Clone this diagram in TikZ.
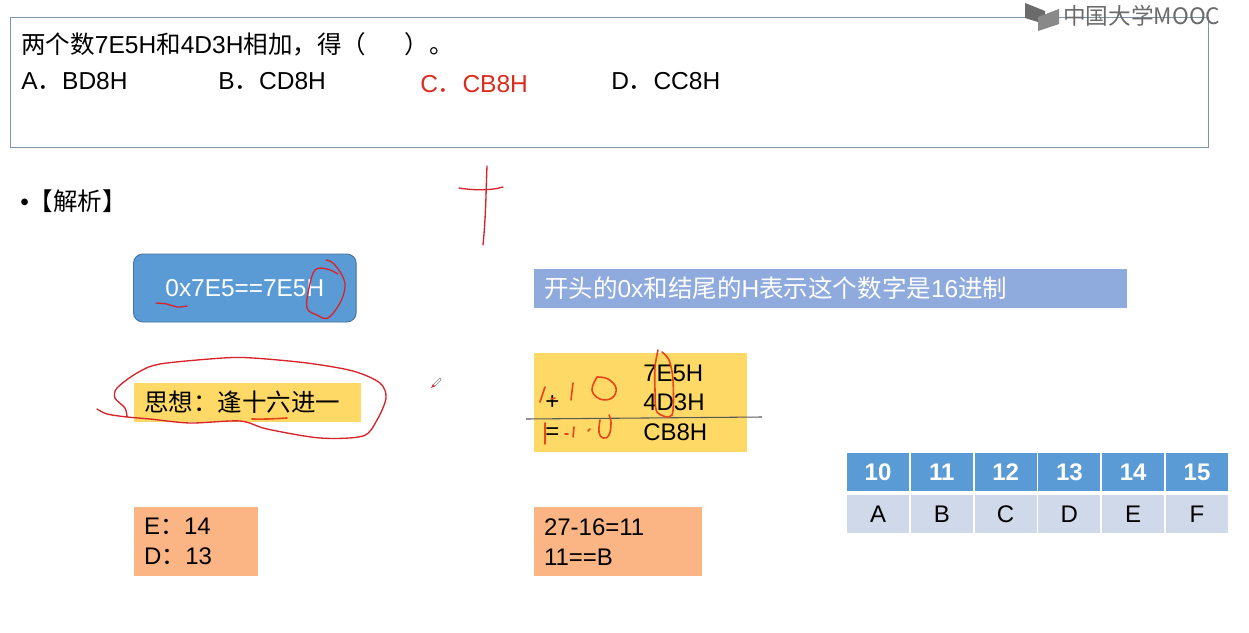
\documentclass[tikz,border=0pt]{standalone}
\usepackage{fontspec}
\usepackage{xcolor}
\setmainfont{Liberation Sans}
\newfontfamily\cjk{Noto Sans CJK SC}
\definecolor{box-line}{HTML}{7C93AA}
\definecolor{ink-red}{HTML}{D8232A}
\definecolor{ink-orange}{HTML}{E8451C}
\definecolor{answer-red}{HTML}{DC2C1E}
\definecolor{sky-blue}{HTML}{5B9BD5}
\definecolor{soft-blue}{HTML}{8FAADC}
\definecolor{pale-blue}{HTML}{CFD9EA}
\definecolor{amber}{HTML}{FFD966}
\definecolor{peach}{HTML}{FBB584}
\definecolor{logo-gray}{HTML}{6B6B6B}
\tikzset{
    question-line/.style = {anchor=base west, inner sep=0pt, font=\fontsize{18.4}{22}\selectfont},
    plain-label/.style = {anchor=west, inner sep=0pt, font=\fontsize{18}{22}\selectfont},
    fill-box/.style = {anchor=north west, inner sep=0pt, outer sep=0pt},
    note-box/.style = {fill-box, fill=peach, align=left, inner xsep=7.5pt, font=\fontsize{18}{22.5}\selectfont},
    head-cell/.style = {fill=sky-blue, text=white, inner sep=0pt, minimum width=46.6pt, minimum height=28.5pt, font=\bfseries\fontsize{18}{22}\selectfont},
    body-cell/.style = {fill=pale-blue, text=black, inner sep=0pt, minimum width=46.6pt, minimum height=28.5pt, font=\fontsize{18}{22}\selectfont},
    pen-red/.style = {draw=ink-red, line width=1pt, line cap=round, line join=round},
    pen-orange/.style = {draw=ink-orange, line width=1.2pt, line cap=round, line join=round},
}
\begin{document}
\begin{tikzpicture}[x=.75pt, y=-.75pt]
\useasboundingbox (0,0) rectangle (1249,632);
\fill[white] (0,0) rectangle (1249,632);

% question
\node [fill-box, draw=box-line, line width=.7pt, minimum width=898.5pt, minimum height=98.2pt] (question) at (10,17) {};
\node [question-line] (stem) at (21,53) {{\cjk 两个数}7E5H{\cjk 和}4D3H{\cjk 相加，得（}\hspace{29pt}{\cjk ）。}};
\node [question-line] (optA) at (21,89) {A{\cjk ．}BD8H};
\node [question-line] (optB) at (218,89) {B{\cjk ．}CD8H};
\node [question-line, text=answer-red] (optC) at (420,92) {C{\cjk ．}CB8H};
\node [question-line] (optD) at (611,89) {D{\cjk ．}CC8H};

% logo
\fill[logo-gray] (1025,3) -- (1045,11) -- (1045,19) -- (1038,22) -- (1025,18) -- cycle;
\fill[logo-gray!80] (1038,31) -- (1038,17) -- (1059,9) -- (1059,24) -- cycle;
\node [anchor=west, inner sep=0pt, text=logo-gray, font=\cjk\fontsize{17}{20}\selectfont] (logo) at (1063,16) {中国大学MOOC};

\node [anchor=west, inner sep=0pt, font=\fontsize{18.4}{22}\selectfont] (heading) at (20,201) {•{\cjk 【解析】}};

% boxes
\node [fill-box, fill=sky-blue, draw=sky-blue!75!black, rounded corners=7pt, line width=.7pt, minimum width=167pt, minimum height=51pt, text=white, font=\fontsize{18.3}{22}\selectfont] (prefix) at (133.5,254) {0x7E5==7E5H};
\node [fill-box, fill=soft-blue, minimum width=445pt, minimum height=29pt, text width=430pt, inner xsep=7.5pt, text=white, font=\fontsize{18.4}{22}\selectfont] (banner) at (534,269) {{\cjk 开头的}0x{\cjk 和结尾的}H{\cjk 表示这个数字是}16{\cjk 进制}};
\node [fill-box, fill=amber, minimum width=170pt, minimum height=29pt, text width=155pt, inner xsep=7.5pt, font=\cjk\fontsize{18.4}{22}\selectfont] (idea) at (134,383) {思想：逢十六进一};
\node [fill-box, fill=amber, minimum width=160pt, minimum height=74.5pt] (sum) at (534,353) {};
\node [plain-label] (rowa) at (643,373) {7E5H};
\node [plain-label] (rowb) at (643,402) {4D3H};
\node [plain-label] (rowc) at (643,432) {CB8H};
\node [plain-label] (plus) at (545,403) {+};
\node [plain-label] (equal) at (545,434) {=};
\node [note-box, minimum width=93pt, minimum height=52pt, text width=78pt] (digits) at (134,507) {E{\cjk ：}14\\D{\cjk ：}13};
\node [note-box, minimum width=126pt, minimum height=52pt, text width=111pt] (carry) at (534,507) {27-16=11\\11==B};

% table
\foreach \i/\head/\body in {0/10/A, 1/11/B, 2/12/C, 3/13/D, 4/14/E, 5/15/F} {
    \node [head-cell] (head\i) at (878+\i*63.8,472) {\head};
    \node [body-cell] (body\i) at (878+\i*63.8,514) {\body};
}

% handwriting
\draw [draw=black!65, line width=.8pt] (526,419) -- (762,417);
\draw [pen-red] (459,188) .. controls (470,190) and (490,191) .. (503,187);
\draw [pen-red] (487,166) .. controls (486,190) and (486,215) .. (483,245);
\draw [pen-red] plot[smooth, tension=.6] coordinates {(156,303) (167,304) (177,307) (187,306)};
\draw [pen-red] plot[smooth, tension=.6] coordinates {(326,260) (333,263) (342,275) (345,287) (340,303) (328,318) (317,315) (307,308) (309,288) (315,270) (327,269) (338,274)};
\draw [pen-red] plot[smooth, tension=.5] coordinates {(97,409) (107,414) (127,417) (150,419) (190,423) (240,421) (267,429) (320,438) (363,436) (377,420) (386,398) (380,383) (353,371) (307,363) (253,358) (223,358) (160,364) (137,373) (117,388) (115,398) (125,408) (127,417)};
\draw [pen-orange] plot[smooth, tension=.6] coordinates {(252,419) (267,419) (287,418)};
\draw [pen-orange] (545,387) -- (540,402);
\draw [pen-orange] (551,399) -- (555,398);
\draw [pen-orange] (573,383) -- (571,400);
\draw [pen-orange] plot[smooth, tension=.7] coordinates {(597,377) (592,390) (600,399) (612,398) (616,388) (608,379) (597,377)};
\draw [pen-orange] (545,423) -- (545,444);
\draw [pen-orange] (565,434) -- (568,434);
\draw [pen-orange] (574,427) -- (573,437);
\draw [pen-orange] (588,431) -- (590,429);
\draw [pen-orange] plot[smooth, tension=.7] coordinates {(600,420) (599,432) (603,438) (609,435) (611,423) (609,415)};
\draw [pen-orange] plot[smooth, tension=.5] coordinates {(658,350) (655,367) (655,390) (657,412) (672,415) (673,380) (669,360) (662,352)};

% pen cursor
\draw [draw=black!45, line width=.5pt] (433,385) -- (440,378) -- (441,380) -- (434,387);
\fill [ink-red] (431,388) -- (433,384) -- (435,386) -- cycle;
\end{tikzpicture}
\end{document}
